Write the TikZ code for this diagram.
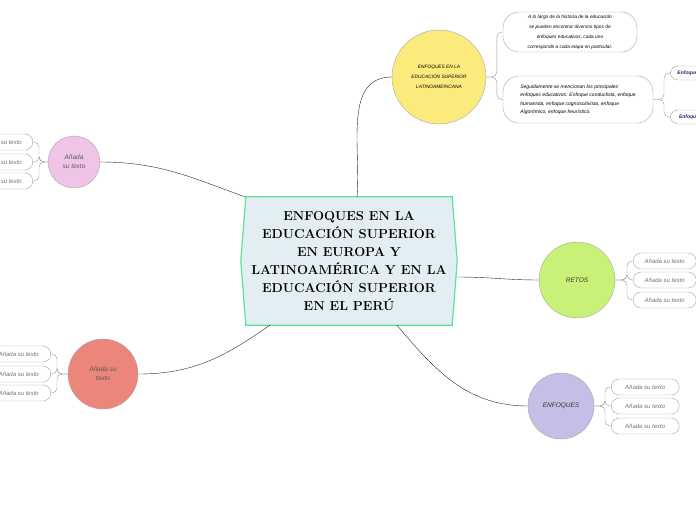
\documentclass[tikz,border=0pt]{standalone}
\usepackage{fontspec}
\setsansfont{Liberation Sans}
\usepackage{tikz}
\usetikzlibrary{positioning, calc, backgrounds}
\definecolor{mainfill}{HTML}{E2EEF4}
\definecolor{mainline}{HTML}{5BE39A}
\definecolor{yellowT}{HTML}{FBEB7C}
\definecolor{pinkT}{HTML}{F0C4E7}
\definecolor{redT}{HTML}{EC857A}
\definecolor{greenT}{HTML}{C9F178}
\definecolor{violetT}{HTML}{C6BEE6}
\definecolor{navyT}{HTML}{1F2A6B}

\begin{document}
\begin{tikzpicture}[
  x=1pt, y=-1pt,
  topic/.style = {circle, draw=black!35, inner sep=1pt, align=center,
                  font=\sffamily\itshape\fontsize{6.5}{9}\selectfont, text=black!65},
  pill/.style  = {rectangle, rounded corners=8pt, draw=black!35, fill=white,
                  minimum height=16pt, minimum width=64pt, inner sep=2pt,
                  font=\sffamily\itshape\fontsize{6}{7}\selectfont, text=black!55},
  note/.style  = {pill, rounded corners=16pt, align=center, text=black,
                  font=\sffamily\itshape\fontsize{4.8}{10}\selectfont},
  link/.style  = {draw=black!85, thin},
  branch/.style= {draw=black!40, rounded corners=5pt}
]
  \useasboundingbox (0,0) rectangle (696,520);
  \clip (0,0) rectangle (696,520);

  % central topic
  \node[minimum width=216pt, minimum height=128pt, align=center,
        font=\bfseries\fontsize{13}{18}\selectfont] (main) at (349,261)
    {ENFOQUES EN LA\\EDUCACIÓN SUPERIOR\\EN EUROPA Y\\LATINOAMÉRICA Y EN LA\\EDUCACIÓN SUPERIOR\\EN EL PERÚ};
  \begin{scope}[on background layer]
  \filldraw[fill=mainfill, draw=mainline, line width=1.2pt]
    ([xshift=5pt]main.north west) -- ([xshift=-5pt]main.north east)
    -- (main.east) -- ([xshift=-5pt]main.south east) -- ([xshift=5pt]main.south west)
    -- (main.west) -- cycle;
  \end{scope}

  % main topics
  \node[topic, fill=yellowT, minimum size=94pt, text=black,
        font=\sffamily\itshape\fontsize{4.8}{10}\selectfont] (latam) at (439,77)
    {ENFOQUES EN LA\\EDUCACIÓN SUPERIOR\\LATINOAMERICANA};
  \node[topic, fill=pinkT, minimum size=52pt] (pink) at (74,162) {Añada\\su texto};
  \node[topic, fill=redT, minimum size=70pt] (red) at (103,374) {Añada su\\texto};
  \node[topic, fill=greenT, minimum size=76pt, text=black!80] (retos) at (577,280) {RETOS};
  \node[topic, fill=violetT, minimum size=66pt, text=black!80] (enf) at (561,406) {ENFOQUES};

  \draw[link] ([xshift=8pt]main.north) to[out=85, in=180] (latam.west);
  \draw[link] ([xshift=4pt]main.north west) to[out=160, in=0] (pink.east);
  \draw[link] ([xshift=29pt]main.south west) to[out=215, in=0] (red.east);
  \draw[link] ([yshift=-16pt]main.east) to[out=0, in=180] (retos.west);
  \draw[link] ([xshift=48pt]main.south) to[out=-50, in=180] (enf.west);

  % notes of the latin american topic
  \node[note, minimum width=134pt, minimum height=40pt] (hist) at (570,32)
    {A lo largo de la historia de la educación\\se pueden encontrar diversos tipos de\\enfoques educativos, cada uno\\corresponde a cada etapa en particular.};
  \node[note, minimum width=150pt, minimum height=47pt, align=left,
        font=\sffamily\itshape\fontsize{5}{8.5}\selectfont] (lista) at (578,99.5)
    {Seguidamente se mencionan los principales\\enfoques educativos: Enfoque conductista, enfoque\\humanista, enfoque cognoscitivista, enfoque\\Algorítmico, enfoque heurístico.};
  \draw[branch] (latam.east) -| ([xshift=-6pt]hist.west) -- (hist.west);
  \draw[branch] (latam.east) -| ([xshift=-6pt]lista.west) -- (lista.west);

  \node[pill, minimum height=14pt, anchor=west, text=navyT,
        font=\sffamily\bfseries\itshape\fontsize{5}{6}\selectfont] (enf1) at (670,73) {Enfoque conductista};
  \node[pill, minimum height=14pt, anchor=west, text=navyT,
        font=\sffamily\bfseries\itshape\fontsize{5}{6}\selectfont] (enf2) at (670,117) {Enfoque humanista};
  \draw[branch] (lista.east) -| ([xshift=-6pt]enf1.west) -- (enf1.west);
  \draw[branch] (lista.east) -| ([xshift=-6pt]enf2.west) -- (enf2.west);

  % sub-topics
  \foreach \y [count=\i] in {142,162,181} {
    \node[pill, anchor=east, minimum width=62pt] (p\i) at (33,\y) {Añada su texto};
    \draw[branch] (pink.west) -| ([xshift=6pt]p\i.east) -- (p\i.east);
  }
  \foreach \y [count=\i] in {354,374,393} {
    \node[pill, anchor=east] (r\i) at (51,\y) {Añada su texto};
    \draw[branch] (red.west) -| ([xshift=6pt]r\i.east) -- (r\i.east);
  }
  \foreach \y [count=\i] in {261,280,300} {
    \node[pill, anchor=west, minimum width=63pt] (g\i) at (633,\y) {Añada su texto};
    \draw[branch] (retos.east) -| ([xshift=-6pt]g\i.west) -- (g\i.west);
  }
  \foreach \y [count=\i] in {387,406,426} {
    \node[pill, anchor=west, minimum width=68pt] (v\i) at (611,\y) {Añada su texto};
    \draw[branch] (enf.east) -| ([xshift=-6pt]v\i.west) -- (v\i.west);
  }
\end{tikzpicture}
\end{document}
